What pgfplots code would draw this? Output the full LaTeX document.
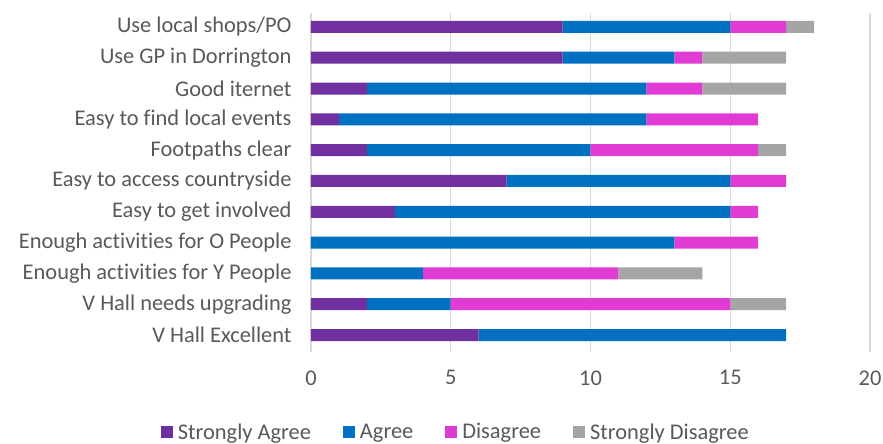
\documentclass[border=0pt]{standalone}
\usepackage{pgfplots}
\usepackage{pgfplotstable}
\pgfplotsset{compat=1.18}
\usepackage{fontspec}
\setmainfont{Carlito}[Ligatures=NoCommon]
\definecolor{cSA}{HTML}{7030A0}
\definecolor{cA}{HTML}{0070C0}
\definecolor{cD}{HTML}{E03CD4}
\definecolor{cSD}{HTML}{A5A5A5}
\definecolor{txt}{HTML}{595959}
\definecolor{gridc}{HTML}{D9D9D9}
\pgfplotstableread{
y SA A D SD
0 6 11 0 0
1 2 3 10 2
2 0 4 7 3
3 0 13 3 0
4 3 12 1 0
5 7 8 2 0
6 2 8 6 1
7 1 11 4 0
8 2 10 2 3
9 9 4 1 3
10 9 6 2 1
}\datatable
\begin{document}
\begin{tikzpicture}
\begin{axis}[
  at={(0,0)}, anchor=south west,
  scale only axis, width=559bp, height=339bp,
  xbar stacked, bar width=12bp,
  xmin=0, xmax=20, ymin=-0.55, ymax=10.45,
  xtick={0,5,10,15,20},
  ytick={0,...,10},
  yticklabels={V Hall Excellent,V Hall needs upgrading,Enough activities for Y People,Enough activities for O People,Easy to get involved,Easy to access countryside,Footpaths clear,Easy to find local events,Good iternet\ ,Use GP in Dorrington,Use local shops/PO},
  axis line style={draw=none},
  major tick length=0pt,
  xmajorgrids, ymajorgrids=false,
  major grid style={draw=gridc, line width=1.2bp},
  tick label style={font=\fontsize{22.5}{26}\selectfont, text=txt},
  /pgf/number format/assume math mode=true,
  xticklabel style={yshift=-15bp},
  yticklabel style={xshift=-16bp},
  legend style={at={(0.259,-0.236)}, anchor=center, draw=none, legend columns=-1,
    font=\fontsize{22.5}{26}\selectfont, text=txt, inner sep=0pt,
    /tikz/every odd column/.append style={column sep=3bp},
    /tikz/every even column/.append style={column sep=30bp}},
  legend image code/.code={\fill[#1,draw=none] (0bp,-6bp) rectangle (12bp,6bp);},
]
\addplot[fill=cSA, draw=none] table[x=SA, y=y] {\datatable};
\addplot[fill=cA, draw=none] table[x=A, y=y] {\datatable};
\addplot[fill=cD, draw=none] table[x=D, y=y] {\datatable};
\addplot[fill=cSD, draw=none] table[x=SD, y=y] {\datatable};
\legend{Strongly Agree, Agree, Disagree, Strongly Disagree}
\end{axis}
\pgfresetboundingbox
\useasboundingbox (-311bp,-92bp) rectangle (572bp,352bp);
\end{tikzpicture}
\end{document}
